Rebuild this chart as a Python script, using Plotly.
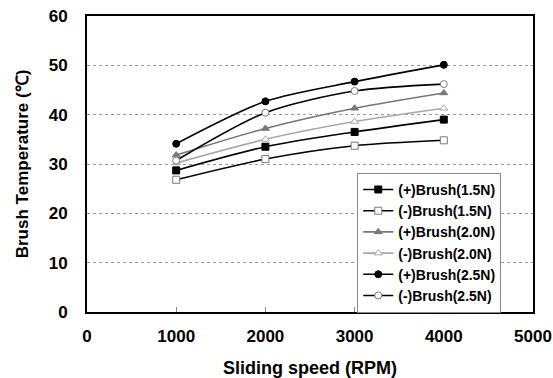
import plotly.graph_objects as go

speeds = [1000, 2000, 3000, 4000]
pos_15 = [28.7, 33.5, 36.5, 39.0]
neg_15 = [26.8, 31.0, 33.7, 34.8]
pos_20 = [31.8, 37.2, 41.3, 44.4]
neg_20 = [30.2, 35.0, 38.6, 41.3]
pos_25 = [34.1, 42.7, 46.7, 50.1]
neg_25 = [30.7, 40.4, 44.8, 46.2]

# name, values, line colour, symbol, marker fill, marker outline
series = [
    ("(+)Brush(1.5N)", pos_15, "#000000", "square", "#000000", "#000000"),
    ("(-)Brush(1.5N)", neg_15, "#000000", "square", "#ffffff", "#7a7a7a"),
    ("(+)Brush(2.0N)", pos_20, "#777777", "triangle-up", "#777777", "#777777"),
    ("(-)Brush(2.0N)", neg_20, "#a8a8a8", "triangle-up", "#ffffff", "#a8a8a8"),
    ("(+)Brush(2.5N)", pos_25, "#000000", "circle", "#000000", "#000000"),
    ("(-)Brush(2.5N)", neg_25, "#000000", "circle", "#ffffff", "#7a7a7a"),
]

fig = go.Figure()
for name, vals, color, sym, fill, edge in series:
    fig.add_trace(go.Scatter(
        x=speeds, y=vals, name=name, mode="lines+markers",
        line=dict(color=color, width=1.6, shape="spline", smoothing=0.8),
        marker=dict(symbol=sym, size=7, color=fill, line=dict(color=edge, width=1)),
    ))

font = "Arial, Liberation Sans, sans-serif"
fig.update_layout(
    width=553, height=378,
    margin=dict(l=87, r=20, t=16, b=66),
    paper_bgcolor="white", plot_bgcolor="white",
    font=dict(family=font, size=17, color="#000000"),
    showlegend=True,
    legend=dict(x=0.606, y=0.47, xanchor="left", yanchor="top",
                bgcolor="white", bordercolor="#888888", borderwidth=1,
                font=dict(family=font, size=14, color="#000000", weight="bold"),
                tracegroupgap=0, itemwidth=30),
    xaxis=dict(range=[0, 5000], tickvals=[0, 1000, 2000, 3000, 4000, 5000],
               ticktext=["<b>0</b>", "<b>1000</b>", "<b>2000</b>", "<b>3000</b>", "<b>4000</b>", "<b>5000</b>"],
               showgrid=False, zeroline=False, showline=True, linecolor="#000000", linewidth=2,
               mirror=True, ticks="inside", ticklen=5, tickcolor="#888888",
               automargin=False, ticklabelstandoff=8,
               title=dict(text="<b>Sliding speed (RPM)</b>", font=dict(size=18), standoff=17)),
    yaxis=dict(range=[0, 60], tickvals=[0, 10, 20, 30, 40, 50, 60],
               ticktext=["<b>%d</b>" % v for v in [0, 10, 20, 30, 40, 50, 60]],
               showgrid=True, gridcolor="#999999", griddash="dot", gridwidth=1,
               zeroline=False, showline=True, linecolor="#000000", linewidth=2,
               mirror=True, ticks="", ticklabelstandoff=14, automargin=False,
               title=dict(text="<b>Brush Temperature (℃)</b>", font=dict(size=17), standoff=16)),
)

fig.write_html("out.html", post_script="document.body.style.margin='0';",
               config={"displayModeBar": False})
